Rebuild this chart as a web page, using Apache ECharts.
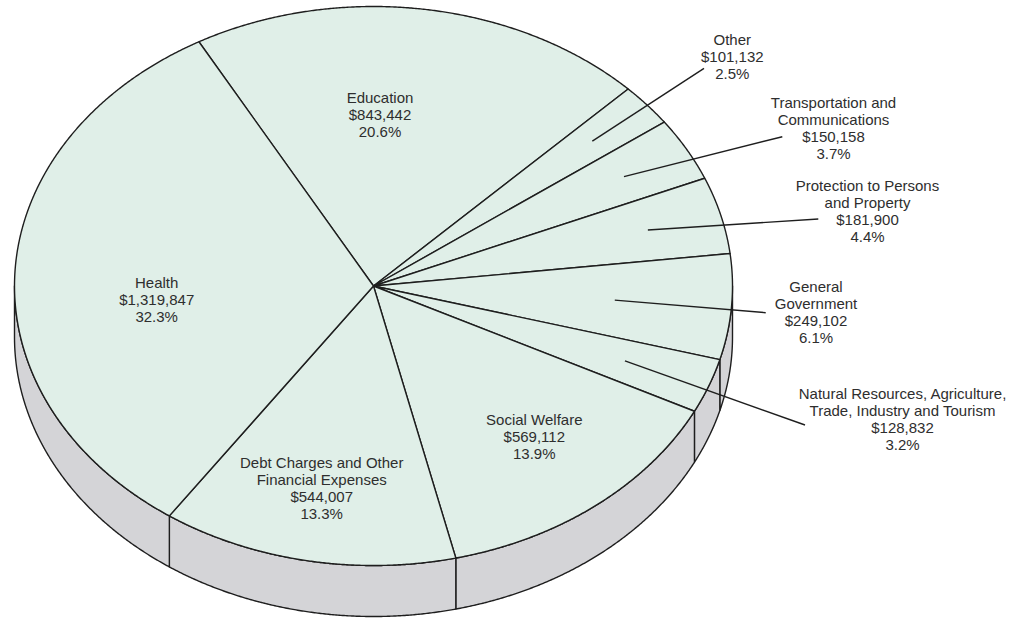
<!DOCTYPE html>
<html>
<head>
<meta charset="utf-8">
<script src="https://cdn.jsdelivr.net/npm/echarts@6/dist/echarts.min.js"></script>
<style>
html,body{margin:0;padding:0;background:#ffffff;}
#chart{width:1015px;height:618px;}
</style>
</head>
<body>
<div id="chart"></div>
<script>
// ---- data (clockwise from the top) ----
const categories = [
  'Education',
  'Other',
  'Transportation and\nCommunications',
  'Protection to Persons\nand Property',
  'General\nGovernment',
  'Natural Resources, Agriculture,\nTrade, Industry and Tourism',
  'Social Welfare',
  'Debt Charges and Other\nFinancial Expenses',
  'Health'
];
const values = [843442, 101132, 150158, 181900, 249102, 128832, 569112, 544007, 1319847];
const pctLabels = ['20.6%', '2.5%', '3.7%', '4.4%', '6.1%', '3.2%', '13.9%', '13.3%', '32.3%'];

// ---- layout (positions / styles only) ----
const geo = { cx: 373.5, cy: 286, rx: 359, ry: 279.5, depth: 51, start: -119.1 };
const labelLayout = [
  { x: 380,   y: 114.5 },
  { x: 732.3, y: 56.5,  leader: { frac: 0.80, x2: 704,   y2: 68.3 } },
  { x: 833.5, y: 127.5, leader: { frac: 0.80, x2: 782.3, y2: 136.7 } },
  { x: 867.5, y: 211,   leader: { frac: 0.79, x2: 818.3, y2: 219 } },
  { x: 816,   y: 312,   leader: { frac: 0.674, x2: 765.7, y2: 312.7 } },
  { x: 902.5, y: 419,   leader: { frac: 0.75, x2: 805,   y2: 425 } },
  { x: 534.3, y: 436.7 },
  { x: 321.7, y: 488 },
  { x: 156.7, y: 299 }
];
const topColor = '#e0efe8';
const sideColor = '#d4d4d7';
const lineColor = '#1e1e1e';
const textColor = '#2e2e2e';

const total = values.reduce((a, b) => a + b, 0);
const cumBefore = values.map((v, i) => values.slice(0, i).reduce((a, b) => a + b, 0));

function pt(tDeg, dy) {
  const r = tDeg * Math.PI / 180;
  return [geo.cx + geo.rx * Math.cos(r), geo.cy + geo.ry * Math.sin(r) + (dy || 0)];
}
function arc(a, b, dy) {
  const pts = [];
  const n = Math.max(2, Math.ceil(Math.abs(b - a) / 0.25));
  for (let k = 0; k <= n; k++) pts.push(pt(a + (b - a) * k / n, dy));
  return pts;
}
function fmtMoney(v) {
  return '$' + v.toString().replace(/\B(?=(\d{3})+(?!\d))/g, ',');
}

function renderItem(params, api) {
  const i = params.dataIndex;
  const v = api.value(0);
  const a0 = geo.start + 360 * cumBefore[i] / total;
  const a1 = a0 + 360 * v / total;
  const children = [];

  // side (front half only: 0..180 deg)
  const lo = Math.max(a0, 0), hi = Math.min(a1, 180);
  if (hi > lo) {
    const pts = arc(lo, hi, 0).concat(arc(hi, lo, geo.depth));
    children.push({
      type: 'polygon', z2: 1,
      shape: { points: pts },
      style: { fill: sideColor, stroke: lineColor, lineWidth: 1.4, lineJoin: 'round' }
    });
  }
  // top face sector
  const topPts = [[geo.cx, geo.cy]].concat(arc(a0, a1, 0));
  children.push({
    type: 'polygon', z2: 2,
    shape: { points: topPts },
    style: { fill: topColor, stroke: lineColor, lineWidth: 1.4, lineJoin: 'round' }
  });

  const lay = labelLayout[i];
  if (lay.leader) {
    const mid = (a0 + a1) / 2;
    const r = mid * Math.PI / 180;
    const x1 = geo.cx + geo.rx * lay.leader.frac * Math.cos(r);
    const y1 = geo.cy + geo.ry * lay.leader.frac * Math.sin(r);
    children.push({
      type: 'line', z2: 3,
      shape: { x1: x1, y1: y1, x2: lay.leader.x2, y2: lay.leader.y2 },
      style: { stroke: lineColor, lineWidth: 1.4 }
    });
  }
  children.push({
    type: 'text', z2: 4,
    style: {
      text: categories[i] + '\n' + fmtMoney(v) + '\n' + pctLabels[i],
      x: lay.x, y: lay.y,
      align: 'center', verticalAlign: 'middle',
      fontFamily: '"Liberation Sans", Arial, sans-serif',
      fontSize: 15, lineHeight: 17,
      fill: textColor
    }
  });
  return { type: 'group', children: children };
}

const chart = echarts.init(document.getElementById('chart'), null, { renderer: 'svg' });
chart.setOption({
  backgroundColor: '#ffffff',
  animation: false,
  series: [{
    type: 'custom',
    coordinateSystem: 'none',
    renderItem: renderItem,
    silent: true,
    data: values.map((v, i) => ({ name: categories[i], value: [v] }))
  }]
});
</script>
</body>
</html>
